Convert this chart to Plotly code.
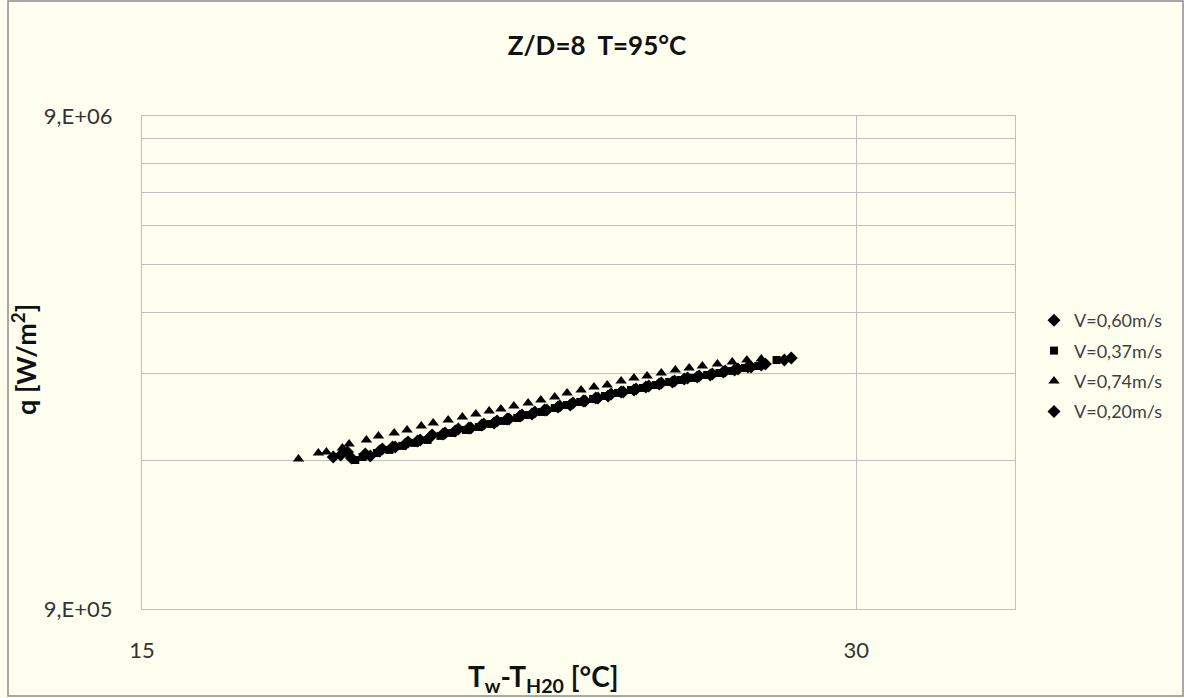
import plotly.graph_objects as go

# ---- data ----
x_060 = [18.06, 18.31, 18.72, 18.94, 19.18, 19.42, 19.65, 19.88, 20.13, 20.39, 20.64, 20.90,
         21.17, 21.42, 21.69, 21.96, 22.22, 22.50, 22.79, 23.06, 23.35, 23.65, 23.93, 24.23,
         24.53, 24.83, 25.15, 25.47, 25.76, 26.09, 26.42, 26.75, 27.09, 27.47, 28.17]
q_060 = [1.830e6, 1.874e6, 1.839e6, 1.901e6, 1.919e6, 1.964e6, 1.982e6, 2.029e6, 2.048e6, 2.087e6,
         2.096e6, 2.136e6, 2.166e6, 2.186e6, 2.227e6, 2.259e6, 2.280e6, 2.323e6, 2.356e6, 2.378e6,
         2.411e6, 2.457e6, 2.480e6, 2.515e6, 2.551e6, 2.586e6, 2.611e6, 2.648e6, 2.673e6, 2.698e6,
         2.736e6, 2.761e6, 2.787e6, 2.826e6, 2.906e6]

x_037 = [18.45, 18.58, 18.84, 19.07, 19.31, 19.54, 19.79, 20.04, 20.27, 20.54, 20.80, 21.05,
         21.31, 21.59, 21.84, 22.11, 22.39, 22.66, 22.95, 23.24, 23.51, 23.81, 24.11, 24.39,
         24.70, 25.02, 25.30, 25.63, 25.96, 26.27, 26.60, 26.93, 27.28, 27.77]
q_037 = [1.805e6, 1.830e6, 1.865e6, 1.892e6, 1.928e6, 1.955e6, 1.982e6, 2.020e6, 2.048e6, 2.077e6,
         2.106e6, 2.136e6, 2.166e6, 2.196e6, 2.227e6, 2.259e6, 2.301e6, 2.334e6, 2.367e6, 2.400e6,
         2.434e6, 2.469e6, 2.503e6, 2.527e6, 2.562e6, 2.599e6, 2.623e6, 2.648e6, 2.685e6, 2.710e6,
         2.736e6, 2.774e6, 2.800e6, 2.879e6]

x_074 = [17.46, 17.80, 17.94, 18.22, 18.34, 18.65, 18.87, 19.16, 19.40, 19.67, 19.90, 20.19,
         20.47, 20.74, 21.01, 21.25, 21.52, 21.82, 22.09, 22.39, 22.66, 22.97, 23.26, 23.56,
         23.88, 24.18, 24.49, 24.83, 25.17, 25.51, 25.84, 26.22, 26.60, 26.98, 27.36]
q_074 = [1.813e6, 1.866e6, 1.874e6, 1.910e6, 1.946e6, 1.982e6, 2.020e6, 2.048e6, 2.077e6, 2.116e6,
         2.146e6, 2.176e6, 2.207e6, 2.238e6, 2.269e6, 2.291e6, 2.324e6, 2.356e6, 2.389e6, 2.423e6,
         2.469e6, 2.503e6, 2.538e6, 2.562e6, 2.611e6, 2.648e6, 2.673e6, 2.710e6, 2.748e6, 2.774e6,
         2.800e6, 2.826e6, 2.853e6, 2.879e6, 2.893e6]

x_020 = [18.19, 18.38, 18.63, 18.89, 19.13, 19.37, 19.60, 19.84, 20.09, 20.33, 20.60, 20.86,
         21.11, 21.38, 21.65, 21.90, 22.17, 22.46, 22.73, 23.02, 23.30, 23.58, 23.88, 24.18,
         24.46, 24.78, 25.10, 25.39, 25.71, 26.04, 26.37, 26.66, 27.01, 27.36, 27.98]
q_020 = [1.848e6, 1.822e6, 1.856e6, 1.883e6, 1.919e6, 1.946e6, 1.973e6, 2.010e6, 2.039e6, 2.067e6,
         2.096e6, 2.126e6, 2.146e6, 2.186e6, 2.217e6, 2.238e6, 2.280e6, 2.312e6, 2.334e6, 2.378e6,
         2.411e6, 2.434e6, 2.480e6, 2.503e6, 2.539e6, 2.574e6, 2.599e6, 2.635e6, 2.660e6, 2.685e6,
         2.723e6, 2.748e6, 2.787e6, 2.813e6, 2.879e6]

series_names = ["V=0,60m/s", "V=0,37m/s", "V=0,74m/s", "V=0,20m/s"]
x_ticks = [15, 30]
x_ticktext = ["15", "30"]
y_ticks = [9e5, 1.8e6, 2.7e6, 3.6e6, 4.5e6, 5.4e6, 6.3e6, 7.2e6, 8.1e6, 9e6]
y_ticktext = ["9,E+05", "", "", "", "", "", "", "", "", "9,E+06"]

BG = "#FFFFF0"
GRID = "#BFBFBF"
FONT = "Lato, Open Sans, sans-serif"

# plot-area geometry in pixels
W, H = 1184, 698
L, R, T, B = 142, 1015, 116, 609
PW, PH = R - L, B - T

def px_x(p):
    return (p - L) / PW

def px_y(p):
    return (B - p) / PH

fig = go.Figure()
specs = [
    (x_060, q_060, series_names[0], "diamond", 10),
    (x_037, q_037, series_names[1], "square", 8),
    (x_074, q_074, series_names[2], "triangle-up", 10),
    (x_020, q_020, series_names[3], "diamond", 10),
]
for i, (xs, ys, name, sym, sz) in enumerate(specs):
    fig.add_trace(go.Scatter(x=xs, y=ys, mode="markers", name=name, legendgroup=f"g{i}",
                             marker=dict(symbol=sym, size=sz, color="black",
                                         line=dict(width=0))))

fig.update_layout(
    width=W, height=H,
    paper_bgcolor=BG, plot_bgcolor=BG,
    margin=dict(l=L, r=W - R, t=T, b=H - B, autoexpand=False),
    font=dict(family=FONT, size=19, color="#404040"),
    title=dict(text="<b>Z/D=8 \u00a0T=95°C</b>", x=597 / W, xref="container", xanchor="center",
               y=1 - 46 / H, yref="container", yanchor="middle",
               font=dict(family=FONT, size=26, color="#111111")),
    showlegend=True,
    legend=dict(x=px_x(1168), xanchor="right", y=px_y(366), yanchor="middle",
                bgcolor="rgba(0,0,0,0)", font=dict(family=FONT, size=18, color="#404040"),
                itemsizing="trace", tracegroupgap=4),
    shapes=[dict(type="rect", xref="paper", yref="paper",
                 x0=px_x(8), x1=px_x(1183), y0=px_y(696), y1=px_y(1),
                 line=dict(color="#8C8C8C", width=1.5), fillcolor="rgba(0,0,0,0)", layer="below")],
    annotations=[
        dict(text="<b>T<sub>w</sub>-T<sub>H20</sub> [°C]</b>", xref="paper", yref="paper",
             x=px_x(543), y=px_y(678), xanchor="center", yanchor="middle", showarrow=False,
             font=dict(family=FONT, size=28, color="#111111")),
        dict(text="<b>q [W/m<sup>2</sup>]</b>", xref="paper", yref="paper",
             x=px_x(24), y=px_y(360), xanchor="center", yanchor="middle", showarrow=False,
             textangle=-90, font=dict(family=FONT, size=27, color="#111111")),
    ],
)

fig.update_xaxes(type="log", range=[1.176091, 1.544068],
                 tickmode="array", tickvals=x_ticks, ticktext=x_ticktext,
                 showgrid=True, gridcolor=GRID, gridwidth=1,
                 showline=True, linecolor=GRID, linewidth=1, mirror=True,
                 ticks="", ticklabelstandoff=22, zeroline=False,
                 tickfont=dict(family=FONT, size=22, color="#333333"))
fig.update_yaxes(type="log", range=[5.954243, 6.954243],
                 tickmode="array", tickvals=y_ticks, ticktext=y_ticktext,
                 showgrid=True, gridcolor=GRID, gridwidth=1,
                 showline=True, linecolor=GRID, linewidth=1, mirror=True,
                 ticks="", ticklabelstandoff=24, zeroline=False,
                 tickfont=dict(family=FONT, size=22, color="#333333"))

fig.write_html("out.html")
